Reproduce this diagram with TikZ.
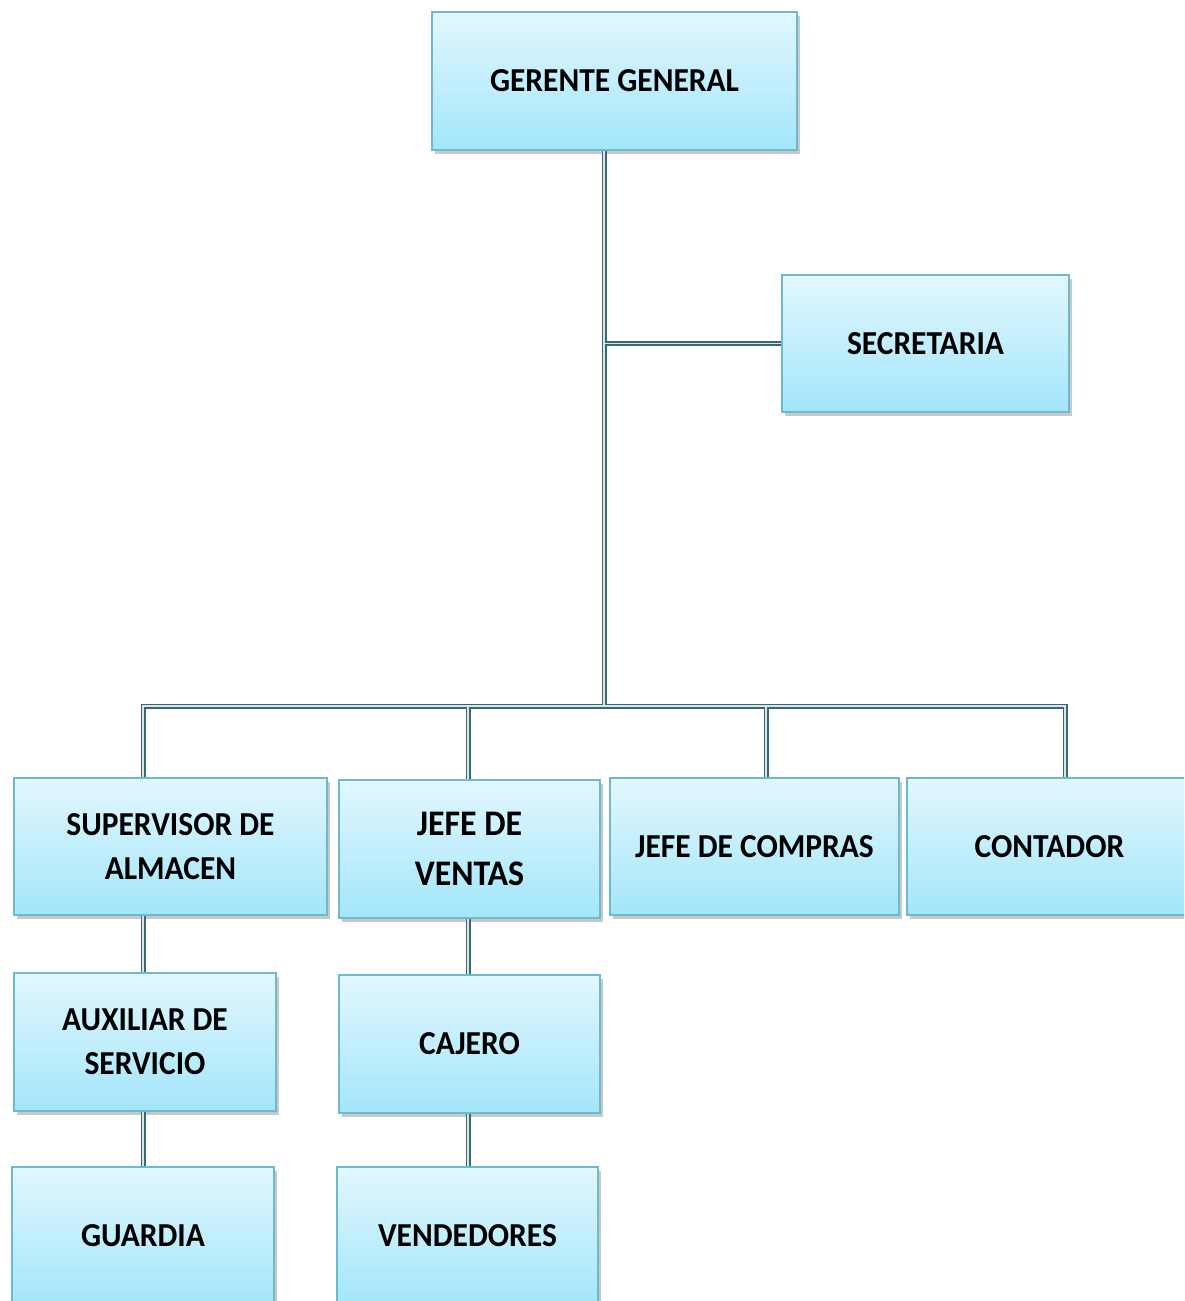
\documentclass[tikz,border=0pt]{standalone}
\usepackage{fontspec}
\setmainfont{Carlito}
\newfontfamily\boxfont[FakeStretch=0.94]{Carlito}
\usetikzlibrary{shadows}
\definecolor{boxtop}{HTML}{E2F7FE}
\definecolor{boxbot}{HTML}{A3E6FA}
\definecolor{boxedge}{HTML}{6DB9CE}
\definecolor{lineout}{HTML}{3A6874}
\definecolor{linein}{HTML}{D8E6E9}
\tikzset{
  orgbox/.style={draw=boxedge, line width=1.5pt, top color=boxtop, bottom color=boxbot,
    minimum width=#1, minimum height=137pt, inner sep=0pt, align=center,
    font=\boxfont\bfseries\fontsize{33.5}{44}\selectfont,
    drop shadow={shadow xshift=2.5pt, shadow yshift=-3.5pt, opacity=0.35, fill=black!60}},
  bigtext/.style={font=\boxfont\bfseries\fontsize{36}{50}\selectfont},
  wireout/.style={draw=lineout, line width=5pt},
  wirein/.style={draw=linein, line width=1.6pt}
}
\newcommand\orgwires[1]{%
  \draw[#1] (gg.south -| bus) -- (bus);
  \draw[#1] (sec.west) -- (sec.west -| bus);
  \draw[#1] (sup.north -| busL) -- (busL) -- (busR) -- (con.north -| busR);
  \draw[#1] (jv.north -| vx) -- (vx);
  \draw[#1] (jc.north -| cx) -- (cx);
  \draw[#1] (sup.south -| busL) -- (aux.north -| busL);
  \draw[#1] (aux.south -| busL) -- (gua.north -| busL);
  \draw[#1] (jv.south -| vx) -- (caj.north -| vx);
  \draw[#1] (caj.south -| vx) -- (ven.north -| vx);
}
\begin{document}
\begin{tikzpicture}[x=1pt,y=-1pt]
\useasboundingbox (0,0) rectangle (1184,1301);
\clip (0,0) rectangle (1184,1301);
\fill[white] (0,0) rectangle (1184,1301);
\coordinate (bus) at (604,706);
\coordinate (busL) at (143,706);
\coordinate (busR) at (1065,706);
\coordinate (vx) at (468,706);
\coordinate (cx) at (766,706);

\node[orgbox=365pt, minimum height=138pt] (gg) at (614.5,81) {GERENTE GENERAL};
\node[orgbox=287pt] (sec) at (925.5,343.5) {SECRETARIA};
\node[orgbox=313pt] (sup) at (170.5,846.5) {SUPERVISOR DE\\ALMACEN};
\node[orgbox=261pt, minimum height=138pt, bigtext] (jv) at (469.5,849) {JEFE DE\\VENTAS};
\node[orgbox=289pt] (jc) at (754.5,846.5) {JEFE DE COMPRAS};
\node[orgbox=285pt] (con) at (1049.5,846.5) {CONTADOR};
\node[orgbox=262pt, minimum height=138pt] (aux) at (145,1042) {AUXILIAR DE\\SERVICIO};
\node[orgbox=261pt, minimum height=138pt] (caj) at (469.5,1044) {CAJERO};
\node[orgbox=262pt, minimum height=138pt] (gua) at (143,1236) {GUARDIA};
\node[orgbox=261pt, minimum height=138pt] (ven) at (467.5,1236) {VENDEDORES};

\orgwires{wireout}
\orgwires{wirein}
\end{tikzpicture}
\end{document}
